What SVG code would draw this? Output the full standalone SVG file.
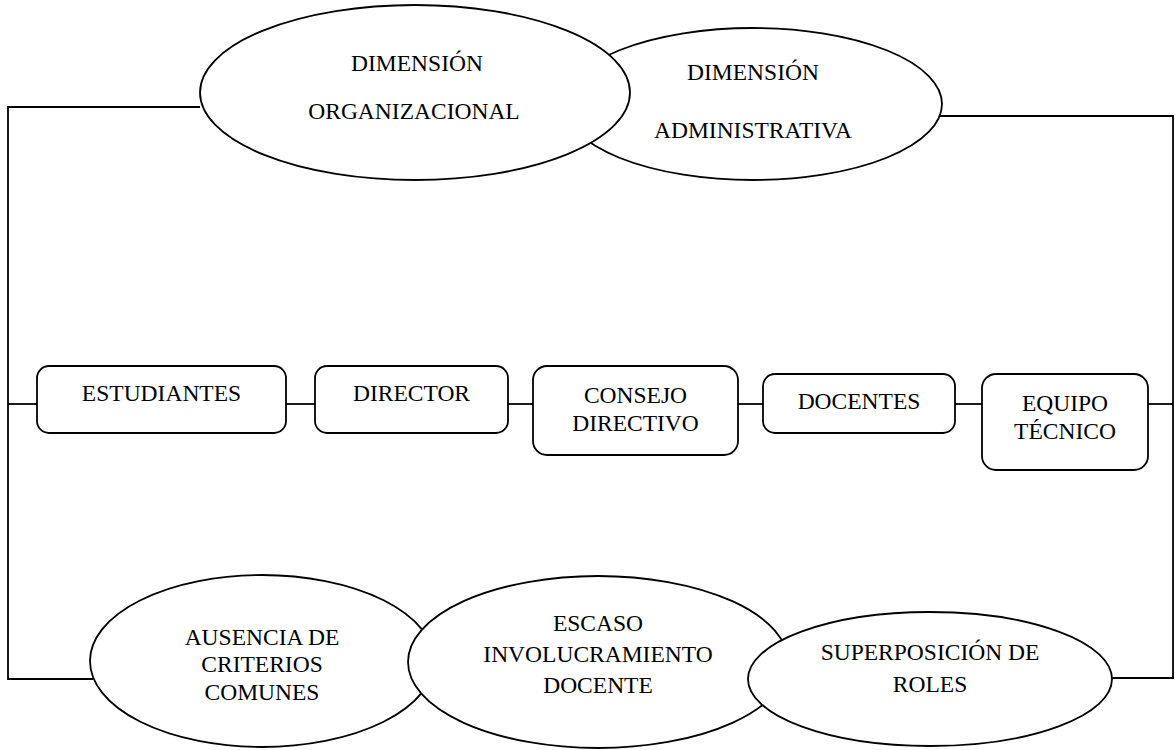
<svg xmlns="http://www.w3.org/2000/svg" width="1175" height="750" viewBox="0 0 1175 750">
<style>
.shape{fill:#fff;stroke:#000;stroke-width:1.8}
.conn{fill:none;stroke:#000;stroke-width:1.8}
text{font-family:"Liberation Serif","Times New Roman",serif;font-size:23.5px;fill:#000;text-anchor:middle}
</style>
<rect width="1175" height="750" fill="#fff"/>
<g id="connectors">
<path class="conn" d="M200,107 H8 V679 H93"/>
<path class="conn" d="M940,116 H1173 V678 H1111"/>
<path class="conn" d="M8,404 H37"/>
<path class="conn" d="M286,404 H315"/>
<path class="conn" d="M508,404 H533"/>
<path class="conn" d="M738,404 H763"/>
<path class="conn" d="M955,404 H982"/>
<path class="conn" d="M1148,404 H1173"/>
</g>
<g id="dim-administrativa">
<ellipse class="shape" cx="753" cy="104" rx="189" ry="76"/>
<text x="753" y="80">DIMENSIÓN</text>
<text x="753" y="138">ADMINISTRATIVA</text>
</g>
<g id="dim-organizacional">
<ellipse class="shape" cx="415" cy="92.5" rx="215" ry="87.5"/>
<text x="417" y="71">DIMENSIÓN</text>
<text x="414" y="119">ORGANIZACIONAL</text>
</g>
<g id="estudiantes">
<rect class="shape" x="37" y="366" width="249" height="67" rx="12"/>
<text x="161.5" y="401">ESTUDIANTES</text>
</g>
<g id="director">
<rect class="shape" x="315" y="366" width="193" height="67" rx="12"/>
<text x="411.5" y="401">DIRECTOR</text>
</g>
<g id="consejo">
<rect class="shape" x="533" y="366" width="205" height="89" rx="14"/>
<text x="635.5" y="403">CONSEJO</text>
<text x="635.5" y="431">DIRECTIVO</text>
</g>
<g id="docentes">
<rect class="shape" x="763" y="374" width="192" height="59" rx="12"/>
<text x="859" y="409">DOCENTES</text>
</g>
<g id="equipo">
<rect class="shape" x="982" y="374" width="166" height="96" rx="14"/>
<text x="1065" y="411">EQUIPO</text>
<text x="1065" y="439">TÉCNICO</text>
</g>
<g id="ausencia">
<ellipse class="shape" cx="262" cy="661" rx="172" ry="86"/>
<text x="262" y="645">AUSENCIA DE</text>
<text x="262" y="672">CRITERIOS</text>
<text x="262" y="700">COMUNES</text>
</g>
<g id="escaso">
<ellipse class="shape" cx="598" cy="662" rx="190" ry="86"/>
<text x="598" y="631">ESCASO</text>
<text x="598" y="662">INVOLUCRAMIENTO</text>
<text x="598" y="693">DOCENTE</text>
</g>
<g id="superposicion">
<ellipse class="shape" cx="930" cy="679" rx="182" ry="67"/>
<text x="930" y="660">SUPERPOSICIÓN DE</text>
<text x="930" y="692">ROLES</text>
</g>
</svg>
